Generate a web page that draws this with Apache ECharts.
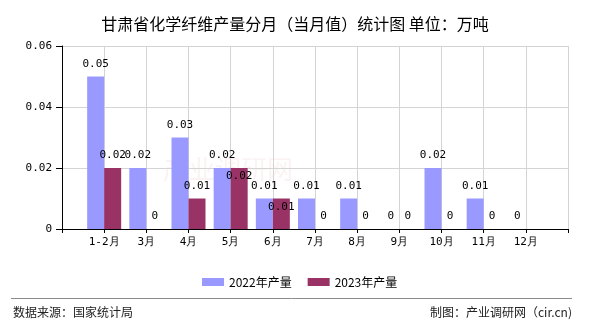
<!DOCTYPE html>
<html>
<head>
<meta charset="utf-8">
<script src="https://cdn.jsdelivr.net/npm/echarts@6/dist/echarts.min.js"></script>
<style>
  html, body { margin: 0; padding: 0; background: #fff; }
  #chart { width: 590px; height: 330px; }
</style>
</head>
<body>
<div id="chart"></div>
<script>
// Monthly chemical fibre output, Gansu (unit: 10k tonnes)
const categories = ['1-2月', '3月', '4月', '5月', '6月', '7月', '8月', '9月', '10月', '11月', '12月'];
const output2022 = [0.05, 0.02, 0.03, 0.02, 0.01, 0.01, 0.01, 0, 0.02, 0.01, 0];
const output2023 = [0.02, 0, 0.01, 0.02, 0.01, 0, 0, 0, 0, 0, null];
const seriesNames = ['2022年产量', '2023年产量'];
const yTicks = { min: 0, max: 0.06, interval: 0.02 };

// 2023 labels that sit inside the bar top to avoid colliding with the 2022 label
const insideLabelMonths = ['5月', '6月'];

const monoFont = '"DejaVu Sans Mono", "Liberation Mono", monospace';
const cjkFont = '"Noto Sans CJK SC", "Noto Sans", sans-serif';

// the axis carries an empty slot on each side so groups sit on the tick marks
const axisData = [''].concat(categories, ['']);

function toSeriesData(values, shiftInside) {
  const items = [null];
  values.forEach(function (v, i) {
    if (v === null) { items.push(null); return; }
    const item = { value: v };
    if (shiftInside && insideLabelMonths.indexOf(categories[i]) >= 0) {
      item.label = { position: 'insideTop', distance: 3 };
    }
    items.push(item);
  });
  items.push(null);
  return items;
}

const barLabel = {
  show: true,
  position: 'top',
  distance: 7,
  color: '#000',
  fontFamily: monoFont,
  fontSize: 11,
  formatter: function (p) { return p.value === 0 ? '0' : String(p.value); }
};

const chart = echarts.init(document.getElementById('chart'), null, { renderer: 'canvas' });
chart.setOption({
  animation: false,
  backgroundColor: '#fff',
  title: {
    text: '甘肃省化学纤维产量分月（当月值）统计图 单位：万吨',
    left: 'center',
    top: 11,
    textStyle: { fontFamily: cjkFont, fontSize: 16, fontWeight: 'normal', color: '#000' }
  },
  legend: {
    data: seriesNames,
    left: 197,
    top: 271,
    icon: 'rect',
    itemWidth: 22,
    itemHeight: 8,
    itemGap: 16,
    textStyle: { fontFamily: cjkFont, fontSize: 12, color: '#000' }
  },
  grid: { left: 62, right: 22, top: 46, bottom: 101, containLabel: false },
  xAxis: {
    type: 'category',
    data: axisData,
    boundaryGap: false,
    axisLine: { lineStyle: { color: '#000', width: 1 } },
    axisTick: { show: true, interval: 0, length: 4, lineStyle: { color: '#000' } },
    axisLabel: { interval: 0, margin: 8, color: '#000', fontFamily: monoFont, fontSize: 11 },
    splitLine: { show: true, interval: 0, lineStyle: { color: '#d4d4d4', width: 1 } }
  },
  yAxis: {
    type: 'value',
    min: yTicks.min,
    max: yTicks.max,
    interval: yTicks.interval,
    axisLine: { show: true, lineStyle: { color: '#000', width: 1 } },
    axisTick: { show: true, length: 6, lineStyle: { color: '#000' } },
    axisLabel: { margin: 10, color: '#000', fontFamily: monoFont, fontSize: 11 },
    splitLine: { show: true, lineStyle: { color: '#d4d4d4', width: 1 } }
  },
  series: [
    {
      name: seriesNames[0],
      type: 'bar',
      barWidth: 17,
      barGap: '0%',
      itemStyle: { color: '#9999FF' },
      label: barLabel,
      data: toSeriesData(output2022, false)
    },
    {
      name: seriesNames[1],
      type: 'bar',
      barWidth: 17,
      barGap: '0%',
      itemStyle: { color: '#993366' },
      label: barLabel,
      data: toSeriesData(output2023, true)
    }
  ],
  graphic: [
    {
      type: 'text', left: 163, top: 156, z: -1, silent: true,
      style: { text: '产业调研网', fontFamily: cjkFont, fontSize: 26, fill: 'rgba(235,190,190,0.18)' }
    },
    {
      type: 'line', silent: true,
      shape: { x1: 11, y1: 298.5, x2: 572, y2: 298.5 },
      style: { stroke: '#8c8c8c', lineWidth: 1 }
    },
    {
      type: 'text', left: 13, top: 306,
      style: { text: '数据来源：国家统计局', fontFamily: cjkFont, fontSize: 12, fill: '#222' }
    },
    {
      type: 'text', right: 18, top: 306,
      style: { text: '制图：产业调研网（cir.cn)', fontFamily: cjkFont, fontSize: 12, fill: '#222' }
    }
  ]
});
</script>
</body>
</html>
